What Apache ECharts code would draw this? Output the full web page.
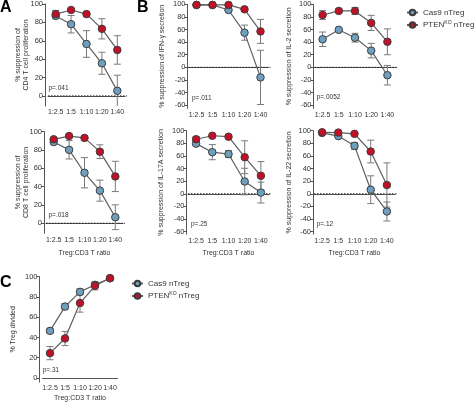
<!DOCTYPE html>
<html>
<head>
<meta charset="utf-8">
<script src="https://cdn.jsdelivr.net/npm/echarts@6/dist/echarts.min.js"></script>
<style>
html,body{margin:0;padding:0;background:#fff;}
#chart{width:474px;height:403px;}
</style>
</head>
<body>
<div id="chart"></div>
<script>
// ---- data ----
const categories = ['1:2.5', '1:5', '1:10', '1:20', '1:40'];
const seriesNames = ['Cas9 nTreg', 'PTENKO nTreg'];

const cd4Cas9 = [87, 78, 56.5, 35.5, 5.5];
const cd4Cas9Err = [2, 9.5, 14.5, 12, 17];
const cd4Pten = [89, 93.5, 89, 73, 50];
const cd4PtenErr = [4, 1.5, 2.5, 11, 15.5];

const cd8Cas9 = [88.5, 80, 55, 35.5, 6.5];
const cd8Cas9Err = [2, 10, 16.5, 11.5, 13.5];
const cd8Pten = [91.5, 95, 93, 78, 51];
const cd8PtenErr = [2, 1.5, 2.5, 7.5, 16.5];

const ifnCas9 = [99, 99, 91, 55, -16];
const ifnCas9Err = [1, 1, 2.5, 12, 43];
const ifnPten = [99, 99, 99, 92, 57];
const ifnPtenErr = [1, 1, 1, 3, 19];

const il2Cas9 = [44.5, 59.5, 47, 26.5, -12.5];
const il2Cas9Err = [11.5, 2, 7, 11.5, 15.5];
const il2Pten = [83, 89.5, 89.5, 70.5, 40.5];
const il2PtenErr = [7, 3, 5.5, 12, 20.5];

const il17Cas9 = [79.5, 66, 63, 19.5, 2];
const il17Cas9Err = [2, 12, 5.5, 21, 16.5];
const il17Pten = [86.5, 92, 90.5, 58, 28.5];
const il17PtenErr = [4, 1, 1, 26, 22.5];

const il22Cas9 = [96.5, 91.5, 76, 6.5, -28];
const il22Cas9Err = [1.5, 2, 5.5, 22, 15];
const il22Pten = [97.5, 97, 95, 67, 14];
const il22PtenErr = [1, 1, 1.5, 18, 35];

const tregCas9 = [46.5, 70.5, 85, 92, 98.5];
const tregCas9Err = [2.5, 3, 3, 2, 1];
const tregPten = [24.5, 39, 74, 91, 98.5];
const tregPtenErr = [6.5, 7, 9, 4, 1];

const ticksPos = [0, 20, 40, 60, 80, 100];
const ticksNeg = [-60, -40, -20, 0, 20, 40, 60, 80, 100];
const zeroLine = [0];
const pValues = ['p=.041', 'p=.018', 'p=.011', 'p=.0052', 'p=.25', 'p=.12', 'p=.31'];
const yTitles = [
  '% suppression of\nCD4 T cell proliferation',
  '% suppression of\nCD8 T cell proliferation',
  '% suppression of IFN-\u03b3 secretion',
  '% suppression of IL-2 secretion',
  '% suppression of IL-17A secretion',
  '% suppression of IL-22 secretion',
  '% Treg divided'
];
const xTitle = 'Treg:CD3 T ratio';

// ---- layout ----
const FONT = '"Liberation Sans", Arial, sans-serif';
const TXT = '#333';
const BLUE = '#6f9fbe';
const RED = '#c01129';

const panels = [
  {grid:{left:48, top:3.5, width:77, height:102.5}, min:-11, off:3, ticks:ticksPos, gap:14.5, c:cd4Cas9, ce:cd4Cas9Err, p:cd4Pten, pe:cd4PtenErr, zero:true, xname:false, pv:[48.5, 89]},
  {grid:{left:46, top:131.5, width:77, height:101.8}, min:-11, off:2, ticks:ticksPos, gap:13.5, c:cd8Cas9, ce:cd8Cas9Err, p:cd8Pten, pe:cd8PtenErr, zero:true, xname:true, xgap:16, pv:[48.5, 216]},
  {grid:{left:188.5, top:4.3, width:80, height:104}, min:-65, off:1, ticks:ticksNeg, gap:21.5, c:ifnCas9, ce:ifnCas9Err, p:ifnPten, pe:ifnPtenErr, zero:true, xname:false, pv:[192, 98.3]},
  {grid:{left:314.5, top:4.3, width:81, height:104}, min:-65, off:1, ticks:ticksNeg, gap:20, c:il2Cas9, ce:il2Cas9Err, p:il2Pten, pe:il2PtenErr, zero:true, xname:false, pv:[316.7, 97.7]},
  {grid:{left:188, top:130.7, width:81, height:103.5}, min:-64, off:1.5, ticks:ticksNeg, gap:21.5, c:il17Cas9, ce:il17Cas9Err, p:il17Pten, pe:il17PtenErr, zero:true, xname:true, xgap:15.5, pv:[191, 224.3]},
  {grid:{left:314, top:130.7, width:81, height:103.5}, min:-64, off:1, ticks:ticksNeg, gap:20, c:il22Cas9, ce:il22Cas9Err, p:il22Pten, pe:il22PtenErr, zero:true, xname:true, xgap:15.5, pv:[316.7, 225]},
  {grid:{left:42.5, top:276.7, width:75, height:105.5}, min:-4, off:3, ticks:ticksPos, gap:22.5, c:tregCas9, ce:tregCas9Err, p:tregPten, pe:tregPtenErr, zero:false, xname:true, xgap:13, pv:[42.7, 370.7]}
];

function errItem(params, api) {
  const cs = params.coordSys;
  const x = api.value(0), m = api.value(1), e = api.value(2);
  const p1 = api.coord([x, m + e]);
  const p2 = api.coord([x, m - e]);
  const yTop = Math.max(p1[1], cs.y);
  const yBot = Math.min(p2[1], cs.y + cs.height);
  const hw = 3.5;
  const style = {stroke: '#7a7a7a', lineWidth: 1};
  const ch = [{type:'line', shape:{x1:p1[0], y1:yTop, x2:p1[0], y2:yBot}, style}];
  if (p1[1] >= cs.y) ch.push({type:'line', shape:{x1:p1[0]-hw, y1:yTop, x2:p1[0]+hw, y2:yTop}, style});
  if (p2[1] <= cs.y + cs.height) ch.push({type:'line', shape:{x1:p2[0]-hw, y1:yBot, x2:p2[0]+hw, y2:yBot}, style});
  return {type:'group', children: ch};
}

function zeroItem(params, api) {
  const cs = params.coordSys;
  const p = api.coord([0, api.value(0)]);
  return {type:'line', shape:{x1:cs.x, y1:p[1], x2:cs.x + cs.width + 2, y2:p[1]},
    style:{stroke:'#222', lineWidth:1, lineDash:[1.5, 1.5]}};
}

const grids = [], xAxes = [], yAxes = [], series = [], graphics = [];
panels.forEach((pn, i) => {
  grids.push(Object.assign({containLabel:false}, pn.grid));
  xAxes.push({
    type:'category', gridIndex:i, data:categories, boundaryGap:true,
    axisLine:{lineStyle:{color:'#555', width:1}},
    axisTick:{alignWithLabel:true, length:3, lineStyle:{color:'#555'}},
    axisLabel:{fontSize:7, color:TXT, fontFamily:FONT, margin:3, interval:0},
    name: pn.xname ? xTitle : '', nameLocation:'middle', nameGap: pn.xgap || 15,
    nameTextStyle:{fontSize:7, color:TXT, fontFamily:FONT}
  });
  yAxes.push({
    type:'value', gridIndex:i, min:pn.min, max:100, offset:pn.off,
    splitLine:{show:false},
    axisLine:{show:true, lineStyle:{color:'#555', width:1}},
    axisTick:{show:true, length:3, lineStyle:{color:'#555'}, customValues:pn.ticks},
    axisLabel:{fontSize:7.5, color:TXT, fontFamily:FONT, margin:2, customValues:pn.ticks},
    name:yTitles[i], nameLocation:'middle', nameGap:pn.gap, nameMoveOverlap:false,
    nameTextStyle:{fontSize:7, color:TXT, fontFamily:FONT, lineHeight:8}
  });
  if (pn.zero) {
    series.push({type:'custom', name:'zero', xAxisIndex:i, yAxisIndex:i, silent:true,
      renderItem:zeroItem, encode:{y:0}, data:zeroLine.map(v => [v]), animation:false, z:1});
  }
  const groups = [
    {name:seriesNames[0], vals:pn.c, errs:pn.ce, color:BLUE},
    {name:seriesNames[1], vals:pn.p, errs:pn.pe, color:RED}
  ];
  groups.forEach((g) => {
    series.push({
      type:'custom', name:'err', xAxisIndex:i, yAxisIndex:i, silent:true,
      renderItem:errItem, encode:{x:0, y:1},
      data:g.vals.map((v, k) => [k, v, g.errs[k]]), animation:false
    });
    series.push({
      type:'line', name:g.name, xAxisIndex:i, yAxisIndex:i,
      data:g.vals, symbol:'circle', symbolSize:7.5, showAllSymbol:true,
      itemStyle:{color:g.color, borderColor:'#3d3d3d', borderWidth:1},
      lineStyle:{color:'#5e5e5e', width:1.2},
      emphasis:{disabled:true}, animation:false
    });
  });
  graphics.push({type:'text', left:pn.pv[0], top:pn.pv[1]-4,
    style:{text:pValues[i], fontSize:6.5, fill:TXT, fontFamily:FONT}});
});

graphics.push({type:'text', left:0, top:0, style:{text:'A', fontSize:16, fontWeight:'bold', fill:'#000', fontFamily:FONT}});
graphics.push({type:'text', left:137, top:0, style:{text:'B', fontSize:16, fontWeight:'bold', fill:'#000', fontFamily:FONT}});
graphics.push({type:'text', left:0, top:275, style:{text:'C', fontSize:16, fontWeight:'bold', fill:'#000', fontFamily:FONT}});

function legendFmt(n) {
  if (n.indexOf('PTEN') === 0) return '{a|PTEN}{s|KO}{a| nTreg}';
  return '{a|' + n + '}';
}
const legendRich = {
  a:{fontSize:8, color:TXT, fontFamily:FONT},
  s:{fontSize:5, color:TXT, fontFamily:FONT, verticalAlign:'top', padding:[0,0,4,0]}
};
function mkLegend(left, top) {
  return {left, top, orient:'vertical', itemWidth:11, itemHeight:7, itemGap:4,
    data:seriesNames, selectedMode:false, formatter:legendFmt,
    textStyle:{fontSize:8, color:TXT, fontFamily:FONT, rich:legendRich}};
}

const chart = echarts.init(document.getElementById('chart'), null, {renderer:'canvas'});
chart.setOption({
  animation:false,
  backgroundColor:'#fff',
  grid:grids, xAxis:xAxes, yAxis:yAxes, series,
  legend:[mkLegend(401, 3.5), mkLegend(126, 274.5)],
  graphic:graphics
});
</script>
</body>
</html>
